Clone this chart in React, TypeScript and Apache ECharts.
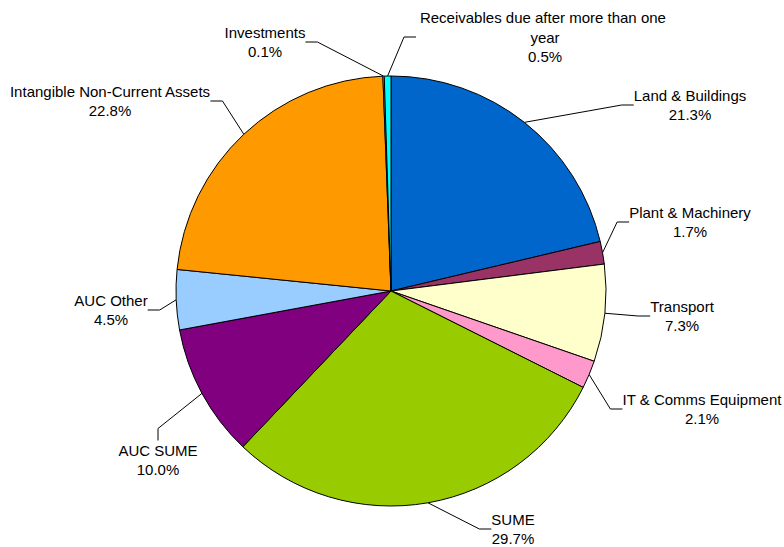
import React, { useEffect, useRef } from "react";
import * as echarts from "echarts";

const categories = [
  "Land & Buildings",
  "Plant & Machinery",
  "Transport",
  "IT & Comms Equipment",
  "SUME",
  "AUC SUME",
  "AUC Other",
  "Intangible Non-Current Assets",
  "Investments",
  "Receivables due after more than one year",
];
const shares = [21.3, 1.7, 7.3, 2.1, 29.7, 10.0, 4.5, 22.8, 0.1, 0.5];
const sliceColors = [
  "#0066CC",
  "#993366",
  "#FFFFCC",
  "#FF99CC",
  "#99CC00",
  "#800080",
  "#99CCFF",
  "#FF9900",
  "#CCFFFF",
  "#00FFFF",
];
// label block centres (layout only)
const labelCentres: [number, number][] = [
  [690, 105],
  [690, 222],
  [682, 316],
  [702, 409],
  [513, 529],
  [158, 460],
  [111, 310],
  [110, 101],
  [265, 42],
  [545, 37],
];

export default function App() {
  const ref = useRef<HTMLDivElement>(null);
  useEffect(() => {
    if (!ref.current) return;
    const chart = echarts.init(ref.current, undefined, { renderer: "svg" });
    chart.setOption({
      animation: false,
      backgroundColor: "#ffffff",
      series: [
        {
          type: "pie",
          center: [391, 291],
          radius: 215,
          startAngle: 90,
          clockwise: true,
          avoidLabelOverlap: false,
          itemStyle: { borderColor: "#000", borderWidth: 1 },
          label: {
            show: true,
            color: "#000",
            fontFamily: "'Liberation Sans', Arial, sans-serif",
            fontSize: 15,
            lineHeight: 19.5,
            align: "center",
            formatter: (p: any) => `${p.name}\n${Number(p.value).toFixed(1)}%`,
          },
          labelLine: {
            show: true,
            length: 12,
            length2: 12,
            lineStyle: { color: "#000", width: 1 },
          },
          labelLayout: (params: any) => {
            const c = labelCentres[params.dataIndex];
            return { x: c[0], y: c[1], align: "center", verticalAlign: "middle" };
          },
          emphasis: { disabled: true },
          data: categories.map((name, i) => ({
            name,
            value: shares[i],
            itemStyle: { color: sliceColors[i] },
            label: i === 9 ? { width: 258, overflow: "break" } : undefined,
          })),
        },
      ],
    });
    return () => chart.dispose();
  }, []);
  return (
    <div
      ref={ref}
      style={{ position: "fixed", left: 0, top: 0, width: 784, height: 547 }}
    />
  );
}
